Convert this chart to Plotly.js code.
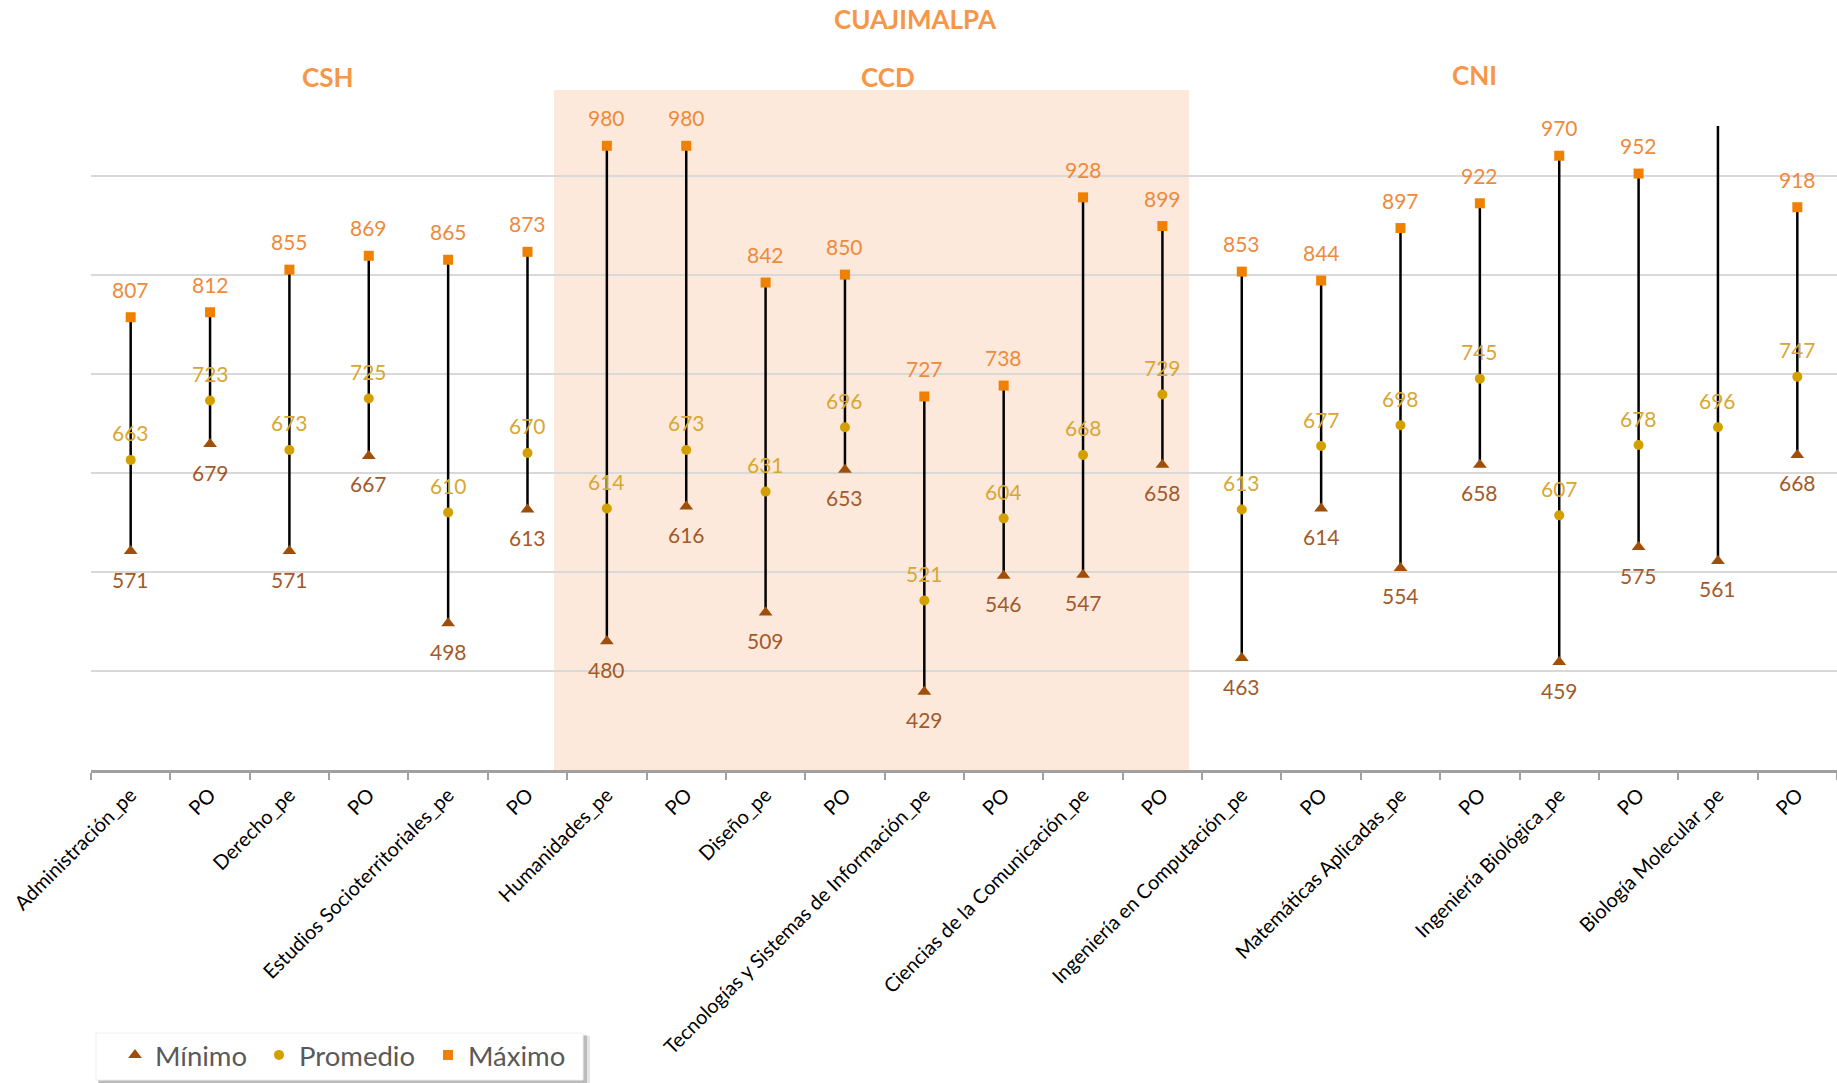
<!DOCTYPE html>
<html>
<head>
<meta charset="utf-8">
<script src="https://cdn.plot.ly/plotly-3.0.1.min.js"></script>
<style>html,body{margin:0;padding:0;background:#fff;}#chart{width:1837px;height:1083px;}</style>
</head>
<body>
<div id="chart"></div>
<script>
const categories = [
  "Administración_pe","PO","Derecho_pe","PO","Estudios Socioterritoriales_pe","PO",
  "Humanidades_pe","PO","Diseño_pe","PO","Tecnologías y Sistemas de Información_pe","PO",
  "Ciencias de la Comunicación_pe","PO","Ingeniería en Computación_pe","PO",
  "Matemáticas Aplicadas_pe","PO","Ingeniería Biológica_pe","PO","Biología Molecular_pe","PO"
];
const minimo   = [571,679,571,667,498,613,480,616,509,653,429,546,547,658,463,614,554,658,459,575,561,668];
const promedio = [663,723,673,725,610,670,614,673,631,696,521,604,668,729,613,677,698,745,607,678,696,747];
// Biología Molecular_pe maximum lies above the visible range (estimated)
const maximo   = [807,812,855,869,865,873,980,980,842,850,727,738,928,899,853,844,897,922,970,952,1040,918];
const seriesNames = ["Mínimo","Promedio","Máximo"];
const groupTitles = ["CSH","CCD","CNI"];
const mainTitle = "CUAJIMALPA";

const idx = categories.map((_, i) => i);
const FONT = "Lato, 'Open Sans', sans-serif";
const C_MAX = "#F08000", C_AVG = "#D4A000", C_MIN = "#A04F0A";
const L_MAX = "#EE8A3C", L_AVG = "#D8A733", L_MIN = "#A35A2A";

const lx = [], ly = [];
idx.forEach(i => { lx.push(i, i, null); ly.push(minimo[i], maximo[i], null); });

const traces = [
  {x: lx, y: ly, mode: "lines", line: {color: "#000", width: 2.5}, showlegend: false, hoverinfo: "skip"},
  {x: idx, y: minimo, name: seriesNames[0], mode: "markers", legend: "legend",
   marker: {symbol: "triangle-up", size: 12, color: C_MIN}},
  {x: idx, y: promedio, name: seriesNames[1], mode: "markers", legend: "legend2",
   marker: {symbol: "circle", size: 10, color: C_AVG}},
  {x: idx, y: maximo, name: seriesNames[2], mode: "markers", legend: "legend3",
   marker: {symbol: "square", size: 10, color: C_MAX}}
];

const annotations = [];
function addLabels(vals, color, shift) {
  vals.forEach((v, i) => annotations.push({
    x: i, y: v, xref: "x", yref: "y", text: String(v), showarrow: false,
    yshift: shift, yanchor: "middle", font: {family: FONT, size: 21, color: color}
  }));
}
addLabels(maximo, L_MAX, 28);
addLabels(promedio, L_AVG, 27);
addLabels(minimo, L_MIN, -28);

const TC = "#F79646";
function title(text, x, y) {
  annotations.push({text: "<b>" + text + "</b>", xref: "paper", yref: "paper", x: x, y: y,
    xanchor: "center", yanchor: "middle", showarrow: false, font: {family: FONT, size: 26, color: TC}});
}
title(mainTitle, 0.4725, 1.166);
title(groupTitles[0], 0.1357, 1.076);
title(groupTitles[1], 0.4564, 1.076);
title(groupTitles[2], 0.7921, 1.079);

// pixel -> paper helpers (plot area: x 91..1837, y 126..770)
const px = v => (v - 91) / 1746;
const py = v => (770 - v) / 644;

const shapes = [
  {type: "rect", xref: "paper", yref: "paper", x0: px(554), x1: px(1189), y0: 0, y1: py(90),
   fillcolor: "#FCE9DB", line: {width: 0}, layer: "below"},
  // legend box shadow + box
  {type: "rect", xref: "paper", yref: "paper", x0: px(99), x1: px(590), y0: py(1087), y1: py(1036),
   fillcolor: "rgba(0,0,0,0.10)", line: {width: 0}, layer: "above"},
  {type: "rect", xref: "paper", yref: "paper", x0: px(98), x1: px(587), y0: py(1084), y1: py(1035),
   fillcolor: "rgba(0,0,0,0.18)", line: {width: 0}, layer: "above"},
  {type: "rect", xref: "paper", yref: "paper", x0: px(96), x1: px(583), y0: py(1080), y1: py(1033),
   fillcolor: "#FFFFFF", line: {color: "#F0F0F0", width: 1}, layer: "above"}
];

const boundaries = categories.map((_, i) => i - 0.5).concat([categories.length - 0.5]);

const legendBase = x => ({orientation: "h", x: px(x), y: py(1055), xanchor: "left", yanchor: "middle",
  bgcolor: "rgba(0,0,0,0)", font: {family: FONT, size: 27.5, color: "#595959"}});

const layout = {
  width: 1837, height: 1083,
  margin: {l: 91, r: 0, t: 126, b: 313},
  paper_bgcolor: "#FFFFFF", plot_bgcolor: "rgba(0,0,0,0)",
  font: {family: FONT},
  showlegend: true,
  legend: legendBase(115),
  legend2: legendBase(259),
  legend3: legendBase(428),
  xaxis: {
    range: [-0.5, categories.length - 0.5], showgrid: false, zeroline: false,
    tickmode: "array", tickvals: idx, ticktext: categories, tickangle: -45,
    ticks: "outside", ticklen: 3, tickcolor: "rgba(0,0,0,0)",
    tickfont: {family: FONT, size: 20, color: "#000"},
    showline: true, linecolor: "#A0A0A0", linewidth: 2.5,
    minor: {tickmode: "array", tickvals: boundaries, ticks: "outside", ticklen: 7, tickcolor: "#A0A0A0", tickwidth: 2, showgrid: false}
  },
  yaxis: {
    range: [350, 1000], tick0: 50, dtick: 100, showticklabels: false, ticks: "",
    showgrid: true, gridcolor: "#D9D9D9", gridwidth: 2, zeroline: false, showline: false
  },
  shapes: shapes,
  annotations: annotations
};

Plotly.newPlot("chart", traces, layout, {displayModeBar: false, staticPlot: true});
</script>
</body>
</html>
